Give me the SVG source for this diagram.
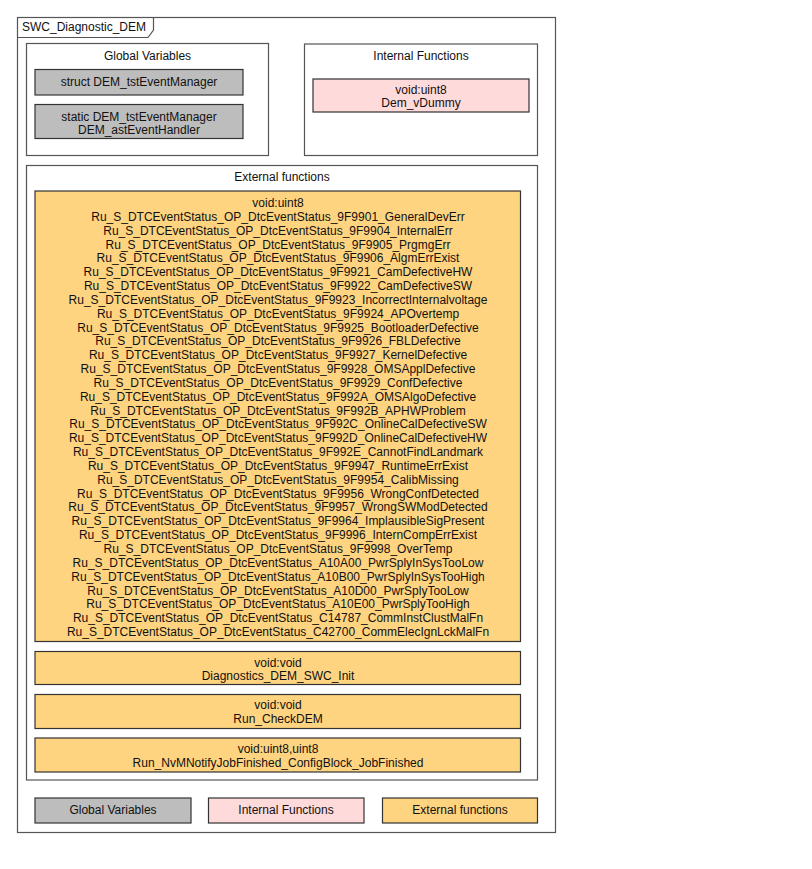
<svg xmlns="http://www.w3.org/2000/svg" width="812" height="869" viewBox="0 0 812 869">
<style>
text{font-family:"Liberation Sans",Arial,sans-serif;font-size:12px;fill:#111;text-anchor:middle}
.frame{fill:#fff;stroke:#555;stroke-width:1.2}
.gv{fill:#BDBDBD;stroke:#333;stroke-width:1.2}
.ifn{fill:#FFDADA;stroke:#333;stroke-width:1.2}
.efn{fill:#FFD480;stroke:#333;stroke-width:1.2}
</style>
<rect width="812" height="869" fill="#fff"/>
<g id="SWC_Diagnostic_DEM">
<rect class="frame" x="17.5" y="17.5" width="538" height="815"/>
<path d="M17.5,37.5 H148 L153.5,30 V17.5" fill="none" stroke="#555" stroke-width="1.2"/>
<text x="22" y="31" style="text-anchor:start">SWC_Diagnostic_DEM</text>
</g>
<g id="GlobalVariables">
<rect class="frame" x="26.5" y="43.5" width="242" height="112"/>
<text x="147.5" y="59.5">Global Variables</text>
</g>
<g id="gv_struct">
<rect class="gv" x="35" y="69.5" width="208" height="25.5"/>
<text x="139" y="86">struct DEM_tstEventManager</text>
</g>
<g id="gv_static">
<rect class="gv" x="35" y="104.5" width="208" height="34"/>
<text x="139" y="121">static DEM_tstEventManager</text>
<text x="139" y="133.5">DEM_astEventHandler</text>
</g>
<g id="InternalFunctions">
<rect class="frame" x="304.5" y="44" width="233" height="111.5"/>
<text x="421" y="59.5">Internal Functions</text>
</g>
<g id="if_Dem_vDummy">
<rect class="ifn" x="313" y="79" width="216" height="33"/>
<text x="421" y="94.3">void:uint8</text>
<text x="421" y="107">Dem_vDummy</text>
</g>
<g id="ExternalFunctions">
<rect class="frame" x="26.5" y="165.5" width="511" height="614.5"/>
<text x="282" y="180.5">External functions</text>
</g>
<g id="ef_DtcEventStatus">
<rect class="efn" x="35" y="191" width="485.5" height="450.5"/>
<text x="278" y="207">void:uint8</text>
<text x="278" y="220.84">Ru_S_DTCEventStatus_OP_DtcEventStatus_9F9901_GeneralDevErr</text>
<text x="278" y="234.68">Ru_S_DTCEventStatus_OP_DtcEventStatus_9F9904_InternalErr</text>
<text x="278" y="248.52">Ru_S_DTCEventStatus_OP_DtcEventStatus_9F9905_PrgmgErr</text>
<text x="278" y="262.36">Ru_S_DTCEventStatus_OP_DtcEventStatus_9F9906_AlgmErrExist</text>
<text x="278" y="276.2">Ru_S_DTCEventStatus_OP_DtcEventStatus_9F9921_CamDefectiveHW</text>
<text x="278" y="290.04">Ru_S_DTCEventStatus_OP_DtcEventStatus_9F9922_CamDefectiveSW</text>
<text x="278" y="303.88">Ru_S_DTCEventStatus_OP_DtcEventStatus_9F9923_IncorrectInternalvoltage</text>
<text x="278" y="317.72">Ru_S_DTCEventStatus_OP_DtcEventStatus_9F9924_APOvertemp</text>
<text x="278" y="331.56">Ru_S_DTCEventStatus_OP_DtcEventStatus_9F9925_BootloaderDefective</text>
<text x="278" y="345.4">Ru_S_DTCEventStatus_OP_DtcEventStatus_9F9926_FBLDefective</text>
<text x="278" y="359.24">Ru_S_DTCEventStatus_OP_DtcEventStatus_9F9927_KernelDefective</text>
<text x="278" y="373.08">Ru_S_DTCEventStatus_OP_DtcEventStatus_9F9928_OMSApplDefective</text>
<text x="278" y="386.92">Ru_S_DTCEventStatus_OP_DtcEventStatus_9F9929_ConfDefective</text>
<text x="278" y="400.76">Ru_S_DTCEventStatus_OP_DtcEventStatus_9F992A_OMSAlgoDefective</text>
<text x="278" y="414.6">Ru_S_DTCEventStatus_OP_DtcEventStatus_9F992B_APHWProblem</text>
<text x="278" y="428.44">Ru_S_DTCEventStatus_OP_DtcEventStatus_9F992C_OnlineCalDefectiveSW</text>
<text x="278" y="442.28">Ru_S_DTCEventStatus_OP_DtcEventStatus_9F992D_OnlineCalDefectiveHW</text>
<text x="278" y="456.12">Ru_S_DTCEventStatus_OP_DtcEventStatus_9F992E_CannotFindLandmark</text>
<text x="278" y="469.96">Ru_S_DTCEventStatus_OP_DtcEventStatus_9F9947_RuntimeErrExist</text>
<text x="278" y="483.8">Ru_S_DTCEventStatus_OP_DtcEventStatus_9F9954_CalibMissing</text>
<text x="278" y="497.64">Ru_S_DTCEventStatus_OP_DtcEventStatus_9F9956_WrongConfDetected</text>
<text x="278" y="511.48">Ru_S_DTCEventStatus_OP_DtcEventStatus_9F9957_WrongSWModDetected</text>
<text x="278" y="525.32">Ru_S_DTCEventStatus_OP_DtcEventStatus_9F9964_ImplausibleSigPresent</text>
<text x="278" y="539.16">Ru_S_DTCEventStatus_OP_DtcEventStatus_9F9996_InternCompErrExist</text>
<text x="278" y="553">Ru_S_DTCEventStatus_OP_DtcEventStatus_9F9998_OverTemp</text>
<text x="278" y="566.84">Ru_S_DTCEventStatus_OP_DtcEventStatus_A10A00_PwrSplyInSysTooLow</text>
<text x="278" y="580.68">Ru_S_DTCEventStatus_OP_DtcEventStatus_A10B00_PwrSplyInSysTooHigh</text>
<text x="278" y="594.52">Ru_S_DTCEventStatus_OP_DtcEventStatus_A10D00_PwrSplyTooLow</text>
<text x="278" y="608.36">Ru_S_DTCEventStatus_OP_DtcEventStatus_A10E00_PwrSplyTooHigh</text>
<text x="278" y="622.2">Ru_S_DTCEventStatus_OP_DtcEventStatus_C14787_CommInstClustMalFn</text>
<text x="278" y="636.04">Ru_S_DTCEventStatus_OP_DtcEventStatus_C42700_CommElecIgnLckMalFn</text>
</g>
<g id="ef_Init">
<rect class="efn" x="35" y="651.5" width="485.5" height="33"/>
<text x="278" y="666.5">void:void</text>
<text x="278" y="680">Diagnostics_DEM_SWC_Init</text>
</g>
<g id="ef_CheckDEM">
<rect class="efn" x="35" y="694.5" width="485.5" height="34"/>
<text x="278" y="709.3">void:void</text>
<text x="278" y="723.3">Run_CheckDEM</text>
</g>
<g id="ef_NvM">
<rect class="efn" x="35" y="738" width="485.5" height="34"/>
<text x="278" y="752.6">void:uint8,uint8</text>
<text x="278" y="767">Run_NvMNotifyJobFinished_ConfigBlock_JobFinished</text>
</g>
<g id="legend_gv">
<rect class="gv" x="35" y="798" width="156" height="25"/>
<text x="113" y="813.6">Global Variables</text>
</g>
<g id="legend_if">
<rect class="ifn" x="208.5" y="798" width="155.5" height="25"/>
<text x="286" y="813.6">Internal Functions</text>
</g>
<g id="legend_ef">
<rect class="efn" x="382.5" y="798" width="155" height="25"/>
<text x="460" y="813.6">External functions</text>
</g>
<g id="connectors"></g>
</svg>
